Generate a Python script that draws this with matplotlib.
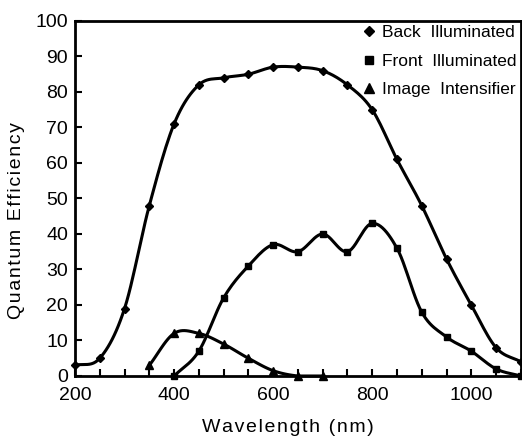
import numpy as np
import matplotlib
matplotlib.use("Agg")
import matplotlib.pyplot as plt
from matplotlib.lines import Line2D

plt.rcParams['font.family'] = ['Liberation Sans', 'DejaVu Sans']

# data
back_wl = [200, 250, 300, 350, 400, 450, 500, 550, 600, 650, 700, 750, 800, 850, 900, 950, 1000, 1050, 1100]
back_qe = [3, 5, 19, 48, 71, 82, 84, 85, 87, 87, 86, 82, 75, 61, 48, 33, 20, 8, 4]

front_wl = [400, 450, 500, 550, 600, 650, 700, 750, 800, 850, 900, 950, 1000, 1050, 1100]
front_qe = [0, 7, 22, 31, 37, 35, 40, 35, 43, 36, 18, 11, 7, 2, 0]

intens_wl = [350, 400, 450, 500, 550, 600, 650, 700]
intens_qe = [3, 12, 12, 9, 5, 1.5, 0, 0]

labels = ['Back  Illuminated', 'Front  Illuminated', 'Image  Intensifier']


def smooth(x, y, n=12):
    # catmull-rom curve through the points, for drawing only
    x = np.asarray(x, float)
    y = np.asarray(y, float)
    px = np.concatenate([[2 * x[0] - x[1]], x, [2 * x[-1] - x[-2]]])
    py = np.concatenate([[2 * y[0] - y[1]], y, [2 * y[-1] - y[-2]]])
    xs, ys = [], []
    t = np.linspace(0, 1, n, endpoint=False)
    for i in range(1, len(px) - 2):
        for p, out in ((px, xs), (py, ys)):
            p0, p1, p2, p3 = p[i - 1], p[i], p[i + 1], p[i + 2]
            out.extend(0.5 * (2 * p1 + (-p0 + p2) * t + (2 * p0 - 5 * p1 + 4 * p2 - p3) * t ** 2
                              + (-p0 + 3 * p1 - 3 * p2 + p3) * t ** 3))
    xs.append(x[-1])
    ys.append(y[-1])
    return np.array(xs), np.clip(ys, 0, None)


def spaced(s):
    # the axis titles are letter-spaced in the reference (hair spaces)
    return '\u200a'.join(s)


fig = plt.figure(figsize=(5.22, 4.37), dpi=100)
ax = fig.add_axes([0.1437, 0.1396, 0.854, 0.8124])

series = [(back_wl, back_qe, 'D', 4.5), (front_wl, front_qe, 's', 5), (intens_wl, intens_qe, '^', 5.5)]
for wl, qe, m, ms in series:
    sx, sy = smooth(wl, qe)
    ax.plot(sx, sy, color='black', lw=2.2, clip_on=False)
    ax.plot(wl, qe, ls='none', marker=m, ms=ms, color='black', clip_on=False)

ax.set_xlim(200, 1100)
ax.set_ylim(0, 100)
ax.set_xticks(np.arange(200, 1101, 50))
ax.set_xticklabels([str(v) if v % 200 == 0 and v < 1100 else '' for v in range(200, 1101, 50)])
ax.set_yticks(np.arange(0, 101, 10))
ax.tick_params(direction='in', length=5, width=1.5, labelsize=14)
ax.tick_params(axis='x', pad=8)
ax.tick_params(axis='y', pad=5)
for s in ax.spines.values():
    s.set_linewidth(2)

ax.set_xlabel(spaced('Wavelength (nm)'), fontsize=14)
ax.set_ylabel(spaced('Quantum Efficiency'), fontsize=14)
ax.xaxis.set_label_coords(0.478, -0.122)
ax.yaxis.set_label_coords(-0.112, 0.437)

handles = [Line2D([], [], ls='none', marker=m, ms=ms + 1, color='black') for _, _, m, ms in series]
ax.legend(handles, labels, loc='upper right', frameon=False, fontsize=12.5,
          handlelength=0.6, handletextpad=0.45, labelspacing=0.75,
          borderaxespad=0.1, borderpad=0.15)

fig.savefig('out.png', dpi=100)
